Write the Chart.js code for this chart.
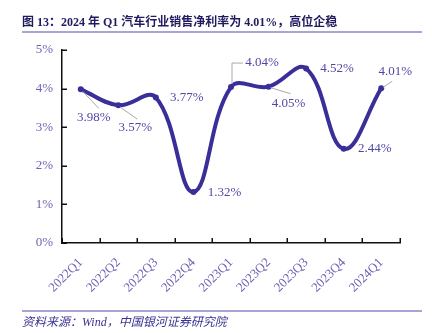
<!DOCTYPE html>
<html>
<head>
<meta charset="utf-8">
<script src="https://cdn.jsdelivr.net/npm/chart.js@4"></script>
<style>
  body { margin: 0; background: #fff; }
  .wrap { position: relative; width: 432px; height: 333px; overflow: hidden; }
  .wrap canvas { position: absolute; left: 0; top: 0; }
  .title {
    position: absolute; left: 22px; top: 12px;
    font: bold 12px "Liberation Serif", "Noto Sans CJK SC", serif;
    color: #1f1b5e; white-space: nowrap;
  }
  .rule { position: absolute; left: 22px; width: 400px; height: 1.5px; background: #a9a4d6; }
  .source {
    position: absolute; left: 22px; top: 312px;
    font: italic 12px "Liberation Serif", "Noto Sans CJK SC", serif;
    color: #3a338f; white-space: nowrap;
  }
</style>
</head>
<body>
<div class="wrap">
  <canvas id="marginChart" width="432" height="333"></canvas>
  <div class="title">图 13：2024 年 Q1 汽车行业销售净利率为 4.01%，高位企稳</div>
  <div class="rule" style="top:31px"></div>
  <div class="rule" style="top:310px"></div>
  <div class="source">资料来源：Wind，中国银河证券研究院</div>
</div>
<script>
const quarters = ["2022Q1", "2022Q2", "2022Q3", "2022Q4", "2023Q1", "2023Q2", "2023Q3", "2023Q4", "2024Q1"];
const netMargin = [3.98, 3.57, 3.77, 1.32, 4.04, 4.05, 4.52, 2.44, 4.01];
const yTicks = [0, 1, 2, 3, 4, 5];

const lineColor = "#3a2f98";
const labelColor = "#5148a6";
const tickColor = "#6c63b4";
const serif = "Liberation Serif";

// label placement per point: text centre offset, optional leader polyline
const labelPos = [
  { dx: 13, dy: 28, lead: [[2, 2], [18, 19]] },
  { dx: 17, dy: 22, lead: [[2, 2], [19, 14]] },
  { dx: 31, dy: 0 },
  { dx: 31, dy: 1 },
  { dx: 31, dy: -24, lead: [[1, -3], [1, -24], [12, -24]] },
  { dx: 20, dy: 17, lead: [[2, 1], [22, 7]] },
  { dx: 31, dy: 0 },
  { dx: 31, dy: 0 },
  { dx: 14, dy: -17, lead: [[2, -1], [11, -7]] }
];

const pointLabels = {
  id: "pointLabels",
  afterDatasetsDraw(chart) {
    const ctx = chart.ctx;
    const pts = chart.getDatasetMeta(0).data;
    ctx.save();
    pts.forEach((p, i) => {
      const pos = labelPos[i];
      if (pos.lead) {
        ctx.strokeStyle = "#a8a8a8";
        ctx.lineWidth = 1;
        ctx.beginPath();
        pos.lead.forEach(([lx, ly], k) => {
          if (k === 0) ctx.moveTo(p.x + lx, p.y + ly);
          else ctx.lineTo(p.x + lx, p.y + ly);
        });
        ctx.stroke();
      }
      ctx.fillStyle = labelColor;
      ctx.font = `13px "${serif}"`;
      ctx.textAlign = "center";
      ctx.textBaseline = "middle";
      ctx.fillText(netMargin[i].toFixed(2) + "%", p.x + pos.dx, p.y + pos.dy);
    });
    ctx.restore();
  }
};

// short tick marks pointing into the plot area
const innerTicks = {
  id: "innerTicks",
  afterDraw(chart) {
    const { ctx, scales: { x, y }, chartArea } = chart;
    ctx.save();
    ctx.strokeStyle = "#111";
    ctx.lineWidth = 1.5;
    ctx.beginPath();
    yTicks.forEach(v => {
      const py = Math.round(y.getPixelForValue(v)) + 0.25;
      ctx.moveTo(chartArea.left, py);
      ctx.lineTo(chartArea.left + 5, py);
    });
    for (let i = 0; i <= quarters.length; i++) {
      const px = Math.round(x.getPixelForValue(i - 0.5)) + 0.25;
      ctx.moveTo(px, chartArea.bottom);
      ctx.lineTo(px, chartArea.bottom - 5);
    }
    ctx.stroke();
    ctx.restore();
  }
};

new Chart(document.getElementById("marginChart"), {
  type: "line",
  data: {
    labels: quarters,
    datasets: [{
      data: netMargin,
      borderColor: lineColor,
      backgroundColor: lineColor,
      borderWidth: 4,
      pointRadius: 3,
      pointBackgroundColor: lineColor,
      pointBorderWidth: 0,
      tension: 0.4
    }]
  },
  options: {
    responsive: false,
    animation: false,
    layout: { padding: { top: 50, right: 32, left: 0, bottom: 0 } },
    plugins: { legend: { display: false }, tooltip: { enabled: false } },
    scales: {
      x: {
        offset: true,
        afterFit: s => { s.height = 90; },
        grid: { display: false, drawTicks: false },
        border: { display: true, color: "#111", width: 1.5 },
        ticks: {
          color: tickColor,
          font: { family: serif, size: 13 },
          minRotation: 45,
          maxRotation: 45,
          padding: 12
        }
      },
      y: {
        min: 0,
        max: 5,
        afterFit: s => { s.width = 62; },
        grid: { display: false, drawTicks: false },
        border: { display: true, color: "#111", width: 1.5 },
        ticks: {
          stepSize: 1,
          color: tickColor,
          padding: 9,
          font: { family: serif, size: 13 },
          callback: v => v + "%"
        }
      }
    }
  },
  plugins: [pointLabels, innerTicks]
});
</script>
</body>
</html>
